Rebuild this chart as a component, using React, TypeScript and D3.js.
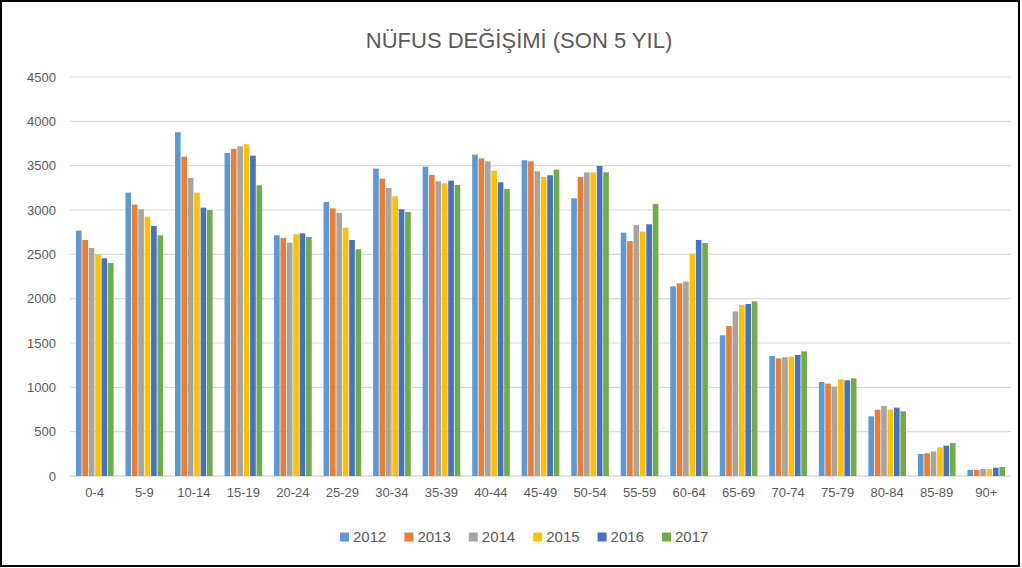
import React from "react";
import * as d3 from "d3";

const ageGroups = ["0-4", "5-9", "10-14", "15-19", "20-24", "25-29", "30-34", "35-39", "40-44", "45-49", "50-54", "55-59", "60-64", "65-69", "70-74", "75-79", "80-84", "85-89", "90+"];
const years = ["2012", "2013", "2014", "2015", "2016", "2017"];
const colors = ["#5b9bd5", "#ed7d31", "#a5a5a5", "#ffc000", "#4472c4", "#70ad47"];

const v2012 = [2767, 3196, 3877, 3643, 2715, 3091, 3467, 3489, 3625, 3561, 3132, 2745, 2139, 1587, 1354, 1060, 673, 248, 68];
const v2013 = [2662, 3061, 3602, 3689, 2685, 3019, 3354, 3395, 3583, 3549, 3373, 2651, 2173, 1692, 1327, 1042, 748, 256, 68];
const v2014 = [2572, 3008, 3361, 3719, 2632, 2967, 3249, 3324, 3549, 3437, 3425, 2831, 2192, 1857, 1339, 1008, 790, 278, 79];
const v2015 = [2497, 2925, 3196, 3741, 2726, 2801, 3155, 3301, 3444, 3373, 3425, 2756, 2508, 1929, 1346, 1090, 748, 323, 79];
const v2016 = [2455, 2820, 3027, 3613, 2737, 2662, 3008, 3331, 3313, 3392, 3497, 2839, 2662, 1940, 1365, 1079, 771, 342, 94];
const v2017 = [2403, 2715, 3000, 3279, 2696, 2557, 2978, 3282, 3237, 3455, 3425, 3068, 2628, 1970, 1406, 1102, 729, 372, 102];
const series = [v2012, v2013, v2014, v2015, v2016, v2017];
const yTicks = [0, 500, 1000, 1500, 2000, 2500, 3000, 3500, 4000, 4500];

const W = 1022;
const H = 568;
const left = 70, right = 1011, top = 77, bottom = 476;
const font = "'Liberation Sans', Arial, sans-serif";
const textColor = "#595959";

export default function App() {
  const x = d3.scaleBand().domain(ageGroups).range([left, right]).paddingInner(0.24).paddingOuter(0.12);
  const xs = d3.scaleBand().domain(years).range([0, x.bandwidth()]).paddingInner(0.12);
  const y = d3.scaleLinear().domain([0, 4500]).range([bottom, top]);

  const legendX = d3.scalePoint().domain(years).range([340, 662]);

  return (
    <svg width={W} height={H} style={{ position: "absolute", left: 0, top: 0, background: "#fff" }} fontFamily={font}>
      <rect x={1} y={1} width={W - 4} height={H - 3} fill="#fff" stroke="#000" strokeWidth={2} />
      <text x={519} y={48} textAnchor="middle" fontSize={22} fill={textColor}>NÜFUS DEĞİŞİMİ (SON 5 YIL)</text>
      {yTicks.map(t => (
        <g key={t}>
          <line x1={left} x2={right} y1={y(t)} y2={y(t)} stroke="#d9d9d9" strokeWidth={t === 0 ? 1.5 : 1.2} />
          <text x={56} y={y(t)} dy="0.35em" textAnchor="end" fontSize={13} fill={textColor}>{t}</text>
        </g>
      ))}
      {ageGroups.map((g, i) => (
        <g key={g} transform={`translate(${x(g)},0)`}>
          {series.map((s, j) => (
            <rect key={j} x={xs(years[j])} y={y(s[i])} width={xs.bandwidth()} height={y(0) - y(s[i])} fill={colors[j]} />
          ))}
          <text x={x.bandwidth() / 2} y={497} textAnchor="middle" fontSize={13} fill={textColor}>{g}</text>
        </g>
      ))}
      {years.map((yr, j) => (
        <g key={yr} transform={`translate(${legendX(yr)},537)`}>
          <rect x={0} y={-4.5} width={9} height={9} fill={colors[j]} />
          <text x={13} y={0} dy="0.35em" fontSize={15} fill={textColor}>{yr}</text>
        </g>
      ))}
    </svg>
  );
}
